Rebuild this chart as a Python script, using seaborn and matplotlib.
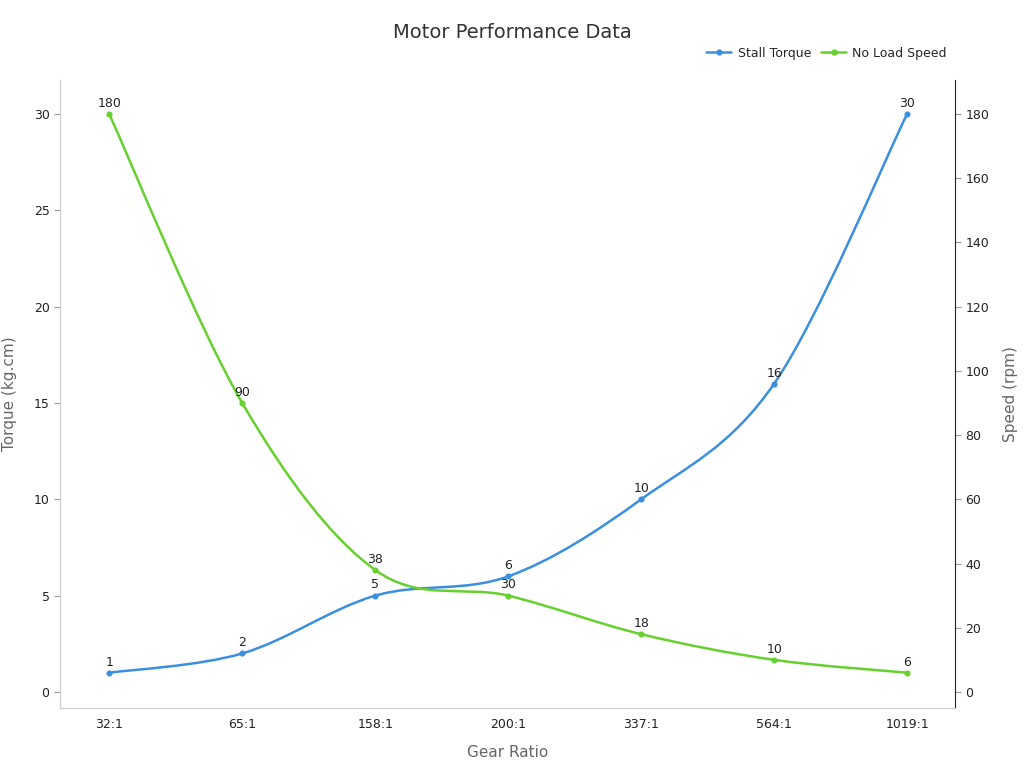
import numpy as np
import matplotlib
matplotlib.use("Agg")
import matplotlib.pyplot as plt
from matplotlib.path import Path
from matplotlib.patches import PathPatch
from matplotlib.lines import Line2D
import seaborn as sns
import pandas as pd

gear_ratios = ["32:1", "65:1", "158:1", "200:1", "337:1", "564:1", "1019:1"]
stall_torque = [1, 2, 5, 6, 10, 16, 30]
no_load_speed = [180, 90, 38, 30, 18, 10, 6]

BLUE = "#3b8fe0"
GREEN = "#66d12e"

sns.set_style("white")
fig = plt.figure(figsize=(10.24, 7.68), dpi=100)
ax = fig.add_axes([60/1024, 60/768, 895/1024, 628/768])
ax2 = ax.twinx()

def smooth(axis, xs, ys, color):
    xs = np.asarray(xs, float); ys = np.asarray(ys, float)
    n = len(xs)
    verts = [(xs[0], ys[0])]; codes = [Path.MOVETO]
    t = 0.5
    for i in range(n - 1):
        p0 = (xs[i-1], ys[i-1]) if i > 0 else (xs[i], ys[i])
        p1 = (xs[i], ys[i]); p2 = (xs[i+1], ys[i+1])
        p3 = (xs[i+2], ys[i+2]) if i + 2 < n else p2
        c1 = (p1[0] + (p2[0]-p0[0])*t/3, p1[1] + (p2[1]-p0[1])*t/3)
        c2 = (p2[0] - (p3[0]-p1[0])*t/3, p2[1] - (p3[1]-p1[1])*t/3)
        verts += [c1, c2, p2]; codes += [Path.CURVE4]*3
    axis.add_patch(PathPatch(Path(verts, codes), fill=False, edgecolor=color, lw=1.8, zorder=3))

x = np.arange(len(gear_ratios))
df = pd.DataFrame({"x": x, "torque": stall_torque, "speed": no_load_speed})
smooth(ax, x, stall_torque, BLUE)
sns.scatterplot(data=df, x="x", y="torque", ax=ax, color=BLUE, s=16, edgecolor=BLUE, zorder=4)
smooth(ax2, x, no_load_speed, GREEN)
sns.scatterplot(data=df, x="x", y="speed", ax=ax2, color=GREEN, s=16, edgecolor=GREEN, zorder=4)

for xi, v in zip(x, stall_torque):
    ax.annotate(str(v), (xi, v), xytext=(0, 3), textcoords="offset points", ha="center", va="bottom", fontsize=9, color="#222")
for xi, v in zip(x, no_load_speed):
    ax2.annotate(str(v), (xi, v), xytext=(0, 3), textcoords="offset points", ha="center", va="bottom", fontsize=9, color="#222")

ax.set_xlim(-0.37, 6.36)
ax.set_ylim(-0.83, 31.76)
ax2.set_ylim(-5, 190.6)
ax.set_xticks(x); ax.set_xticklabels(gear_ratios)
ax.set_yticks([0, 5, 10, 15, 20, 25, 30])
ax2.set_yticks(range(0, 181, 20))
for a in (ax, ax2):
    a.tick_params(labelsize=9, colors="#222", length=4)
    a.tick_params(axis="both", color="#999")
ax.set_xlabel("Gear Ratio", fontsize=11, color="#666", labelpad=10)
ax.set_ylabel("Torque (kg.cm)", fontsize=11, color="#666", labelpad=12)
ax2.set_ylabel("Speed (rpm)", fontsize=11, color="#666", labelpad=10)
for a in (ax, ax2):
    a.spines["top"].set_visible(False)
    a.spines["left"].set_color("#ccc")
    a.spines["bottom"].set_color("#ccc")
    a.spines["right"].set_visible(False)
ax2.spines["right"].set_visible(True)
ax2.spines["right"].set_color("#222")

fig.text(0.5, 1 - 33/768, "Motor Performance Data", ha="center", va="center", fontsize=14, color="#333")
handles = [Line2D([], [], color=BLUE, marker="o", ms=3.5, lw=1.8),
           Line2D([], [], color=GREEN, marker="o", ms=3.5, lw=1.8)]
fig.legend(handles, ["Stall Torque", "No Load Speed"], loc="center right",
           bbox_to_anchor=(958/1024, 1 - 53/768), ncol=2, frameon=False, fontsize=9,
           handlelength=2, columnspacing=0.8, handletextpad=0.5)
fig.savefig("out.png", dpi=100)
